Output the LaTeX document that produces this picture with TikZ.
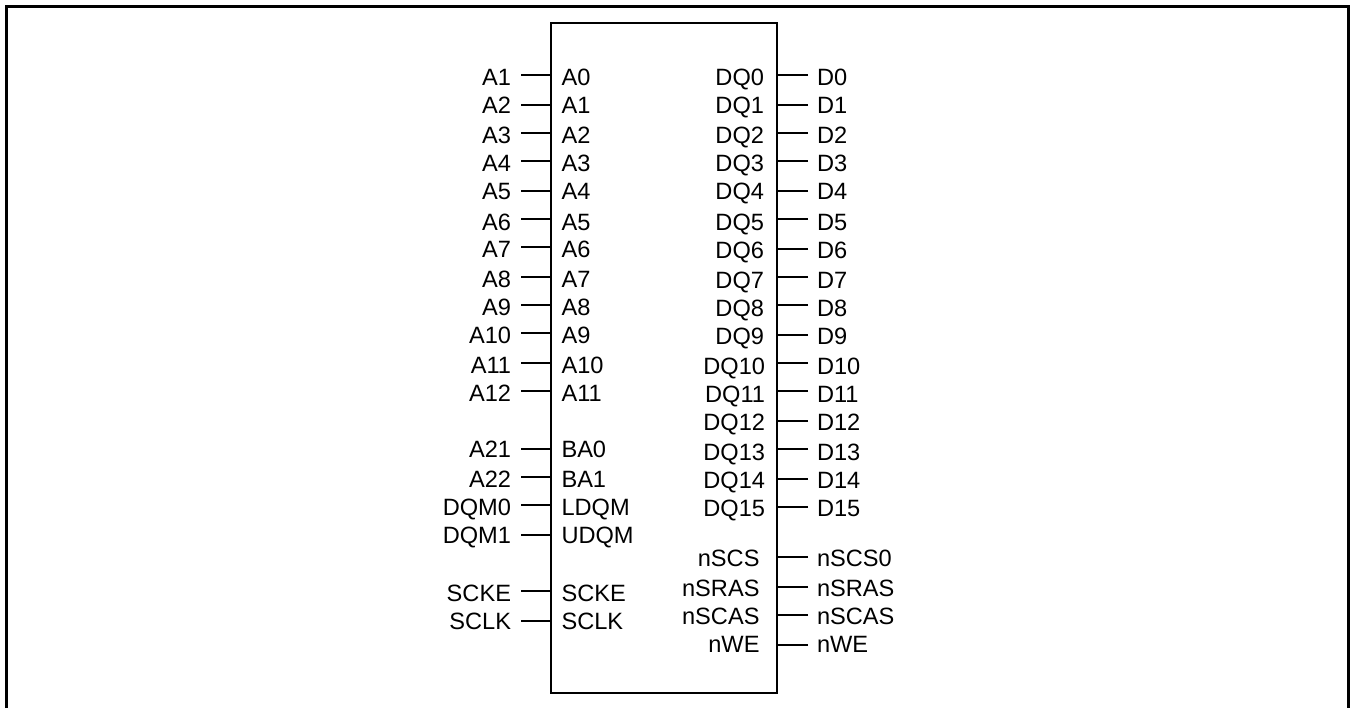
\documentclass[tikz,border=0pt]{standalone}
\usepackage{fontspec}
\setmainfont{Liberation Sans}
\tikzset{
  pinlabel/.style={inner sep=0pt,outer sep=0pt,font=\fontsize{17.7pt}{20pt}\selectfont,text=black},
  endlabel/.style={pinlabel,anchor=base east},
  startlabel/.style={pinlabel,anchor=base west},
  chipbox/.style={draw=black,line width=1.5pt,inner sep=0pt,outer sep=0pt,rectangle,minimum width=226.2*.75pt,minimum height=669.7*.75pt},
  stub/.style={draw=black,line width=1.5pt},
  frameline/.style={draw=black,line width=2.25pt,line join=miter}
}
\begin{document}
\begin{tikzpicture}[x=.75pt,y=-.75pt]
\useasboundingbox (0,0) rectangle (1351,708);
\coordinate (fa) at (6.5,708);
\coordinate (fb) at (6.5,6.5);
\coordinate (fc) at (1348.5,6.5);
\coordinate (fd) at (1348.5,708);
\draw[frameline] (fa) -- (fb) -- (fc) -- (fd);
\node[chipbox] (chip) at (664.3,358.15) {};
% left pins: id / line y / baseline y / outer text / inner text
\foreach \i/\ly/\by/\ot/\it in {
 a/75.3/85/A1/A0, b/105.3/113.3/A2/A1, c/133/143.3/A3/A2, d/161/171.5/A4/A3,
 e/191.3/199.2/A5/A4, f/219.3/230/A6/A5, g/247.3/257.5/A7/A6, h/277.3/287.7/A8/A7,
 i/305.3/315.7/A9/A8, j/333.3/343.7/A10/A9, k/363.3/373.7/A11/A10, l/391.3/401.7/A12/A11,
 m/449.3/457.7/A21/BA0, n/477.3/487.7/A22/BA1, o/505.3/515.7/DQM0/LDQM, p/535.3/543.7/DQM1/UDQM,
 q/591.3/601.7/SCKE/SCKE, r/621.3/629.5/SCLK/SCLK}{
  \node[endlabel] (lo\i) at (511,\by) {\ot};
  \node[startlabel] (li\i) at (561.5,\by) {\it};
  \coordinate (ls\i) at (521,\ly);
  \draw[stub] (ls\i) -- (ls\i -| chip.west);
}
% right pins: id / line y / baseline y / inner text / outer text / inner right edge
\foreach \i/\ly/\by/\it/\ot/\xr in {
 a/75.3/85/DQ0/D0/764, b/105.2/113.3/DQ1/D1/764, c/133/143.3/DQ2/D2/764, d/161/171.4/DQ3/D3/764,
 e/191.3/199.3/DQ4/D4/764, f/219.3/230/DQ5/D5/764, g/249.3/258/DQ6/D6/764, h/277.3/288/DQ7/D7/764,
 i/305.3/316/DQ8/D8/764, j/335/344/DQ9/D9/764, k/363/374/DQ10/D10/765, l/391/402/DQ11/D11/765,
 m/421.3/430/DQ12/D12/765, n/449.3/460/DQ13/D13/765, o/479.3/488/DQ14/D14/765, p/507.3/516/DQ15/D15/765,
 q/557.3/566/nSCS/nSCS0/759.5, r/587.3/596/nSRAS/nSRAS/759.5, s/615.3/624/nSCAS/nSCAS/759.5, t/645.3/652/nWE/nWE/759.5}{
  \node[endlabel] (ri\i) at (\xr,\by) {\it};
  \node[startlabel] (ro\i) at (817,\by) {\ot};
  \coordinate (rs\i) at (808,\ly);
  \draw[stub] (rs\i) -- (rs\i -| chip.east);
}
\end{tikzpicture}
\end{document}
